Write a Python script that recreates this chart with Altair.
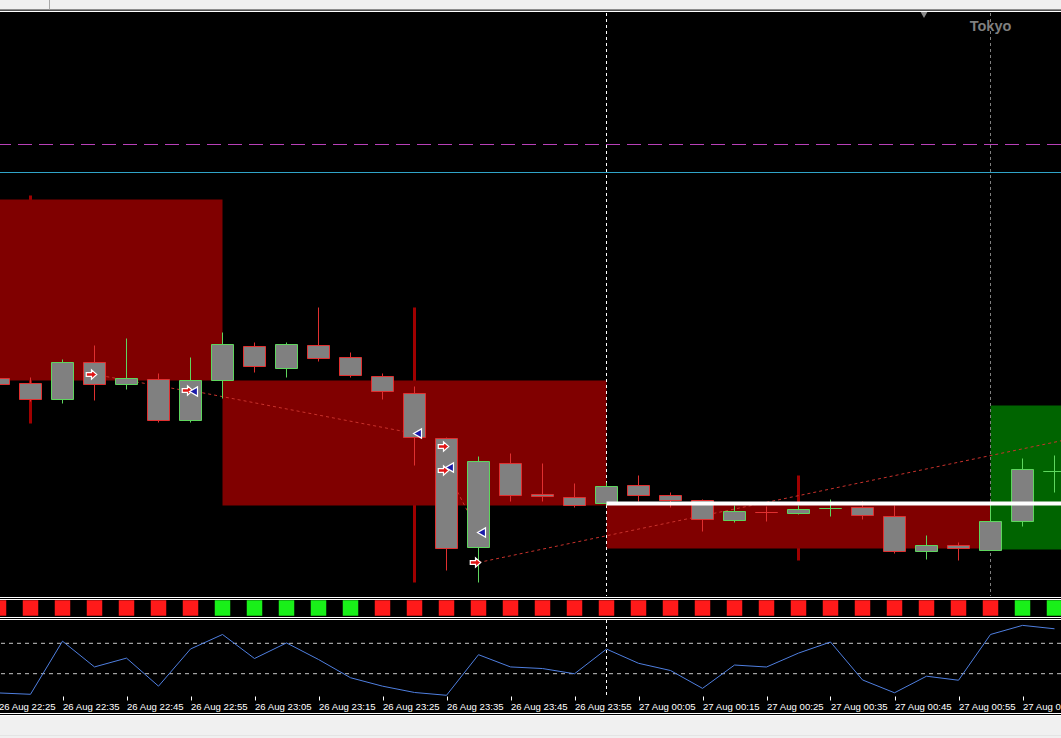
import altair as alt
import pandas as pd

# ---------------- data ----------------
bar_times = [
    "2020-08-26T22:25:00", "2020-08-26T22:30:00", "2020-08-26T22:35:00", "2020-08-26T22:40:00",
    "2020-08-26T22:45:00", "2020-08-26T22:50:00", "2020-08-26T22:55:00", "2020-08-26T23:00:00",
    "2020-08-26T23:05:00", "2020-08-26T23:10:00", "2020-08-26T23:15:00", "2020-08-26T23:20:00",
    "2020-08-26T23:25:00", "2020-08-26T23:30:00", "2020-08-26T23:35:00", "2020-08-26T23:40:00",
    "2020-08-26T23:45:00", "2020-08-26T23:50:00", "2020-08-26T23:55:00", "2020-08-27T00:00:00",
    "2020-08-27T00:05:00", "2020-08-27T00:10:00", "2020-08-27T00:15:00", "2020-08-27T00:20:00",
    "2020-08-27T00:25:00", "2020-08-27T00:30:00", "2020-08-27T00:35:00", "2020-08-27T00:40:00",
    "2020-08-27T00:45:00", "2020-08-27T00:50:00", "2020-08-27T00:55:00", "2020-08-27T01:00:00",
    "2020-08-27T01:05:00", "2020-08-27T01:10:00",
]
opens = [1.08218, 1.08213, 1.08197, 1.08234, 1.08212, 1.08217, 1.08176, 1.08216, 1.08250, 1.08228,
         1.08251, 1.08239, 1.08220, 1.08203, 1.08158, 1.08049, 1.08133, 1.08102, 1.08099, 1.08093,
         1.08111, 1.08101, 1.08096, 1.08076, 1.08084, 1.08083, 1.08088, 1.08089, 1.08080, 1.08045,
         1.08051, 1.08046, 1.08075, 1.08125]
highs = [1.08221, 1.08219, 1.08237, 1.08251, 1.08258, 1.08223, 1.08239, 1.08264, 1.08254, 1.08254,
         1.08289, 1.08244, 1.08223, 1.08210, 1.08159, 1.08140, 1.08143, 1.08133, 1.08113, 1.08114,
         1.08121, 1.08104, 1.08097, 1.08091, 1.08090, 1.08091, 1.08097, 1.08095, 1.08091, 1.08061,
         1.08054, 1.08094, 1.08138, 1.08141]
lows = [1.08209, 1.08195, 1.08193, 1.08196, 1.08207, 1.08174, 1.08174, 1.08198, 1.08224, 1.08219,
        1.08235, 1.08219, 1.08197, 1.08131, 1.08026, 1.08014, 1.08095, 1.08095, 1.08089, 1.08091,
        1.08095, 1.08089, 1.08065, 1.08074, 1.08075, 1.08082, 1.08080, 1.08077, 1.08043, 1.08037,
        1.08036, 1.08046, 1.08070, 1.08104]
closes = [1.08212, 1.08197, 1.08234, 1.08212, 1.08218, 1.08176, 1.08216, 1.08252, 1.08230, 1.08252,
          1.08238, 1.08221, 1.08205, 1.08159, 1.08048, 1.08135, 1.08101, 1.08100, 1.08091, 1.08110,
          1.08101, 1.08096, 1.08077, 1.08085, 1.08084, 1.08087, 1.08088, 1.08081, 1.08045, 1.08051,
          1.08048, 1.08075, 1.08127, 1.08125]
directions = ["down", "down", "up", "down", "up", "down", "up", "up", "down", "up",
              "down", "down", "down", "down", "down", "up", "down", "down", "down", "up",
              "down", "down", "down", "up", "down", "up", "up", "down", "down", "up",
              "down", "up", "up", "up"]

spike_times = ["2020-08-26T22:30:00", "2020-08-26T23:30:00", "2020-08-27T00:30:00"]
spike_tops = [1.08401, 1.08289, 1.08121]
spike_bottoms = [1.08173, 1.08014, 1.08036]

box_starts = ["2020-08-26T22:00:00", "2020-08-26T23:00:00", "2020-08-27T00:00:00", "2020-08-27T01:00:00"]
box_ends = ["2020-08-26T23:00:00", "2020-08-27T00:00:00", "2020-08-27T01:00:00", "2020-08-27T02:00:00"]
box_tops = [1.08397, 1.08216, 1.08093, 1.08191]
box_bottoms = [1.08216, 1.08091, 1.08048, 1.08047]
box_colors = ["#800000", "#800000", "#800000", "#006400"]

level_prices = [1.08452, 1.08424]
level_colors = ["#b840b8", "#30a4c8"]
white_level_start = "2020-08-27T00:00:00"
white_level_end = "2020-08-27T02:00:00"
white_level_price = 1.08093

trade_open_times = ["2020-08-26T22:40:00", "2020-08-26T22:55:00", "2020-08-26T23:35:00",
                    "2020-08-26T23:35:00", "2020-08-26T23:40:00"]
trade_open_prices = [1.08222, 1.08206, 1.08150, 1.08126, 1.08034]
trade_close_times = ["2020-08-26T22:55:00", "2020-08-26T23:30:00", "2020-08-26T23:35:00",
                     "2020-08-26T23:40:00", "2020-08-27T01:15:00"]
trade_close_prices = [1.08205, 1.08163, 1.08129, 1.08064, 1.08161]
trade_closed = [True, True, True, True, False]

strip_colors = (["#ff1a1a"] * 7 + ["#19f019"] * 5 + ["#ff1a1a"] * 20 + ["#19f019"] * 2)

osc_values = [4.7, 2.9, 72.8, 38.9, 50.5, 13.6, 62.5, 81.6, 50.0, 70.5, 48.7, 24.7, 13.6, 5.3,
              1.6, 55.0, 38.9, 36.8, 29.9, 62.4, 43.7, 34.2, 10.7, 41.4, 38.8, 57.1, 71.7, 21.8,
              4.9, 26.7, 21.4, 81.6, 93.6, 89.1]
osc_levels = [30, 70]

day_separator = "2020-08-27T00:00:00"
session_separator = "2020-08-27T01:00:00"
session_label = "Tokyo"

tick_times = ["2020-08-26T22:25:00", "2020-08-26T22:35:00", "2020-08-26T22:45:00",
              "2020-08-26T22:55:00", "2020-08-26T23:05:00", "2020-08-26T23:15:00",
              "2020-08-26T23:25:00", "2020-08-26T23:35:00", "2020-08-26T23:45:00",
              "2020-08-26T23:55:00", "2020-08-27T00:05:00", "2020-08-27T00:15:00",
              "2020-08-27T00:25:00", "2020-08-27T00:35:00", "2020-08-27T00:45:00",
              "2020-08-27T00:55:00", "2020-08-27T01:05:00"]
view_start = "2020-08-26T22:25:00"
view_end = "2020-08-27T01:15:00"

# ---------------- helpers ----------------
def dt(s):
    ts = pd.Timestamp(s)
    return alt.DateTime(year=ts.year, month=ts.month, date=ts.day, hours=ts.hour,
                        minutes=ts.minute)

BULL = "#5ed65e"
BEAR = "#e03030"

# 32 px per 5-minute bar; the 22:25 bar sits just left of the frame
xscale = alt.Scale(domain=[dt(view_start), dt(view_end)], range=[-1.5, 1086.5], nice=False, padding=0)
xaxis = alt.Axis(values=[dt(t) for t in tick_times], format="%d %b %H:%M",
                 labelColor="white", labelFont="Liberation Sans", labelFontSize=9.6,
                 labelAlign="left", labelBaseline="top", labelPadding=1,
                 tickColor="white", tickSize=4, tickWidth=1, domain=False, grid=False,
                 labelOverlap=False, labelFlush=False, labelBound=False, offset=-42, title=None)


def X(f):
    return alt.X(f"{f}:T", scale=xscale, axis=xaxis, title=None)


PY = alt.Scale(domain=[1.08, 1.08583], range=[596.5, 13.5], zero=False, nice=False)
OY = alt.Scale(domain=[0, 100], range=[696.5, 620.5], zero=False, nice=False)


def Y(f):
    return alt.Y(f"{f}:Q", scale=PY, axis=None)


one = pd.DataFrame({"a": [0]})


def hline(y, color, width=1):
    return alt.Chart(one).mark_rule(color=color, strokeWidth=width).encode(y=alt.value(y))


# ---------------- layers ----------------
candles = pd.DataFrame(dict(t=bar_times, o=opens, h=highs, l=lows, c=closes, d=directions))
dir_scale = alt.Scale(domain=["up", "down"], range=[BULL, BEAR])

spikes = pd.DataFrame(dict(t=spike_times, top=spike_tops, bot=spike_bottoms))
spike_layer = alt.Chart(spikes).mark_rule(strokeWidth=3, color="#a00000").encode(
    x=X("t"), y=Y("top"), y2="bot")

boxes = pd.DataFrame(dict(s=box_starts, e=box_ends, top=box_tops, bot=box_bottoms, col=box_colors))
box_layer = alt.Chart(boxes).mark_rect(clip=True).encode(
    x=X("s"), x2="e", y=Y("top"), y2="bot", color=alt.Color("col:N", scale=None))

levels = pd.DataFrame(dict(p=level_prices))
magenta = alt.Chart(levels.iloc[[0]]).mark_rule(strokeWidth=1, strokeDash=[14, 7], color=level_colors[0]).encode(y=Y("p"))
cyan = alt.Chart(levels.iloc[[1]]).mark_rule(strokeWidth=1, color=level_colors[1]).encode(y=Y("p"))

seps = pd.DataFrame(dict(t=[day_separator]))
day_sep_main = alt.Chart(seps).mark_rule(color="white", strokeDash=[3, 3], strokeWidth=1).encode(
    x=X("t"), y=alt.value(13), y2=alt.value(596))
day_sep_osc = alt.Chart(seps).mark_rule(color="white", strokeDash=[3, 3], strokeWidth=1).encode(
    x=X("t"), y=alt.value(620), y2=alt.value(696))
sess = pd.DataFrame(dict(t=[session_separator], lab=[session_label]))
sess_sep = alt.Chart(sess).mark_rule(color="#808080", strokeDash=[3, 3], strokeWidth=1).encode(
    x=X("t"), y=alt.value(13), y2=alt.value(596))
sess_text = alt.Chart(sess).mark_text(font="Liberation Sans", fontWeight="bold", fontSize=14.5,
                                      color="#7f7f7f", align="center", baseline="alphabetic").encode(
    x=X("t"), y=alt.value(31), text="lab:N")

trades = pd.DataFrame(dict(t0=trade_open_times, p0=trade_open_prices, t1=trade_close_times,
                           p1=trade_close_prices, closed=trade_closed))
trade_lines = alt.Chart(trades).mark_rule(strokeDash=[3, 3], strokeWidth=1, color="#c8322c", clip=True).encode(
    x=X("t0"), y=Y("p0"), x2="t1", y2="p1")

wicks = alt.Chart(candles).mark_rule(strokeWidth=1).encode(
    x=X("t"), y=Y("l"), y2="h", color=alt.Color("d:N", scale=dir_scale, legend=None))
bodies = alt.Chart(candles).mark_bar(size=22, fill="#808080", strokeWidth=1, fillOpacity=1).encode(
    x=X("t"), y=Y("o"), y2="c", stroke=alt.Stroke("d:N", scale=dir_scale, legend=None))

white_level = alt.Chart(pd.DataFrame(dict(s=[white_level_start], e=[white_level_end], p=[white_level_price]))).mark_rule(
    color="white", strokeWidth=4, clip=True).encode(x=X("s"), x2="e", y=Y("p"))

arrow_path = "M -1 -0.35 L 0 -0.35 L 0 -0.9 L 1 0 L 0 0.9 L 0 0.35 L -1 0.35 Z"
open_marks = alt.Chart(trades).mark_point(shape=arrow_path, size=110, filled=True, fill="#e01414",
                                          stroke="white", strokeWidth=1.2, opacity=1, xOffset=-3).encode(
    x=X("t0"), y=Y("p0"))
close_marks = alt.Chart(trades[trades["closed"]]).mark_point(shape="triangle-left", size=85, filled=True,
                                                            fill="#1a1aa8", stroke="white", strokeWidth=1.2,
                                                            opacity=1, xOffset=3).encode(
    x=X("t1"), y=Y("p1"))

strip = pd.DataFrame(dict(t=bar_times, c=strip_colors))
strip_layer = alt.Chart(strip).mark_square(size=240, opacity=1).encode(
    x=X("t"), y=alt.value(608), color=alt.Color("c:N", scale=None))

osc = pd.DataFrame(dict(t=bar_times, v=osc_values))
osc_line = alt.Chart(osc).mark_line(color="#4f7fe0", strokeWidth=1, clip=True).encode(
    x=X("t"), y=alt.Y("v:Q", scale=OY, axis=None))
osc_lv = alt.Chart(pd.DataFrame(dict(lv=osc_levels))).mark_rule(color="#c8c8c8", strokeDash=[4, 4], strokeWidth=1).encode(
    y=alt.Y("lv:Q", scale=OY, axis=None))

# window chrome
top_band = alt.Chart(one).mark_rect(color="#f0f0f0").encode(
    x=alt.value(0), x2=alt.value(1061), y=alt.value(0), y2=alt.value(9.5))
top_tab = alt.Chart(one).mark_rule(color="#a8a8a8").encode(x=alt.value(49.5), y=alt.value(0), y2=alt.value(9.5))
bottom_band = alt.Chart(one).mark_rect(color="#f0f0f0").encode(
    x=alt.value(0), x2=alt.value(1061), y=alt.value(716), y2=alt.value(738))
shift_marker = alt.Chart(one).mark_point(shape="triangle-down", size=45, filled=True, color="#8a8a8a", opacity=1).encode(
    x=alt.value(924), y=alt.value(15))

chart = alt.layer(
    spike_layer, box_layer, magenta, cyan, day_sep_main, day_sep_osc, sess_sep, trade_lines,
    wicks, bodies, white_level, open_marks, close_marks, sess_text,
    strip_layer, osc_lv, osc_line,
    top_band, top_tab, hline(10, "#a0a0a0"), hline(11.5, "#ffffff"),
    hline(597.5, "#ffffff"), hline(599.5, "#ffffff"), hline(617.5, "#ffffff"), hline(619.5, "#ffffff"),
    hline(713.5, "#ffffff"), hline(715.5, "#ffffff"),
    bottom_band, hline(735.5, "#e4e4e4"), shift_marker,
).resolve_scale(y="independent").properties(
    width=1061, height=738, padding=0, autosize=alt.AutoSizeParams(type="none"), background="#000000"
).configure_view(strokeWidth=0, fill="#000000")

chart.save("out.html", embed_options={"renderer": "svg", "actions": False})
